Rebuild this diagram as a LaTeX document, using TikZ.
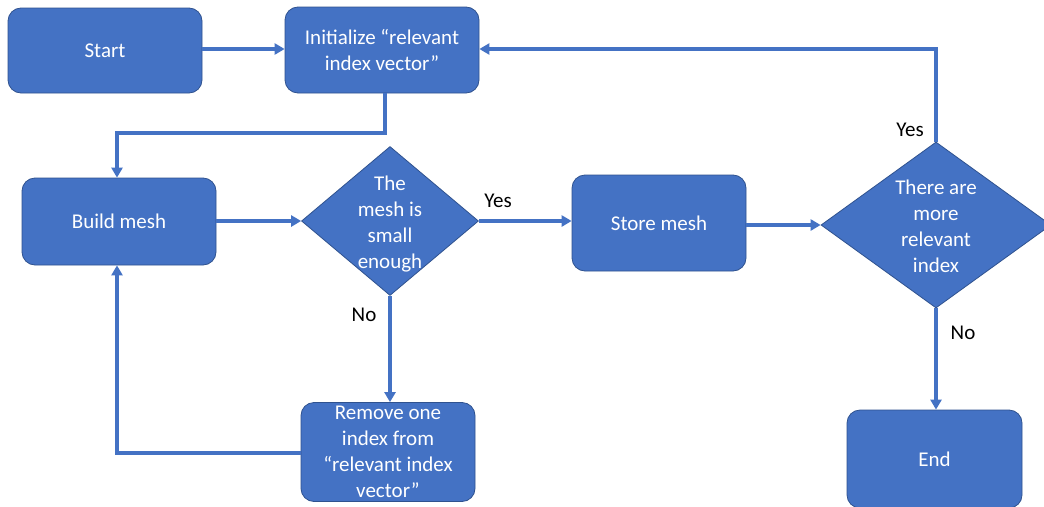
\documentclass[tikz,border=0pt]{standalone}
\usepackage{fontspec}
\setmainfont{Carlito}
\usetikzlibrary{shapes.geometric,arrows.meta}
\definecolor{fillblue}{HTML}{4472C4}
\definecolor{edgeblue}{HTML}{2F528F}
\definecolor{lineblue}{HTML}{4472C4}
\begin{document}
\begin{tikzpicture}[x=1pt,y=-1pt,
  txt/.style={text=white,align=center,font=\fontsize{21}{26}\selectfont},
  procbox/.style={draw=edgeblue,line width=0.8pt,fill=fillblue,rounded corners=13pt,
    inner sep=0pt,txt},
  decision/.style={diamond,draw=edgeblue,line width=0.8pt,fill=fillblue,inner sep=0pt,
    minimum width=177pt,minimum height=149pt},
  flow/.style={draw=lineblue,line width=3.4pt,
    -{Triangle[length=10pt,width=11pt]}},
  lab/.style={text=black,font=\fontsize{21}{26}\selectfont}]
  \useasboundingbox (0,0) rectangle (1044,506);
  \fill[white] (0,0) rectangle (1044,506);

  % process boxes
  \node[procbox,minimum width=194pt,minimum height=85pt] (start) at (105,50.5) {Start};
  \node[procbox,minimum width=194pt,minimum height=86pt] (init) at (382,50)
    {Initialize “relevant\\index vector”};
  \node[procbox,minimum width=194pt,minimum height=87pt] (build) at (119,221.5) {Build mesh};
  \node[procbox,minimum width=174pt,minimum height=96pt] (store) at (659,223) {Store mesh};
  \node[procbox,minimum width=174pt,minimum height=99pt] (remove) at (388,452)
    {Remove one\\index from\\“relevant index\\vector”};
  \node[procbox,minimum width=175pt,minimum height=98pt] (end) at (934.5,459) {End};

  % decisions
  \node[decision,label={[txt,yshift=-3pt]center:The\\mesh is\\small\\enough}] (small) at (390,221) {};
  \node[decision,minimum width=230pt,minimum height=166pt,
    label={[txt,yshift=-1pt]center:There are\\more\\relevant\\index}] (more) at (936,225) {};

  % connectors
  \coordinate (c1) at (385,133);
  \coordinate (c2) at (117,133);
  \coordinate (c3) at (117,453);
  \coordinate (c4) at (936,49);
  \draw[flow] (start.east |- 0,49) -- (init.west |- 0,49);
  \draw[flow] (init.south -| c1) -- (c1) -- (c2) -- (build.north -| c2);
  \draw[flow] (build.east |- 0,221) -- (small.west);
  \draw[flow] (small.east) -- (store.west |- small.east);
  \draw[flow] (small.south) -- (remove.north -| small.south);
  \draw[flow] (remove.west |- c3) -- (c3) -- (build.south -| c3);
  \draw[flow] (store.east |- more.west) -- (more.west);
  \draw[flow] (more.north) -- (c4) -- (init.east |- c4);
  \draw[flow] (more.south) -- (end.north -| more.south);

  % branch labels
  \node[lab] (ylo) at (498,201) {Yes};
  \node[lab] (nlo) at (364,315) {No};
  \node[lab] (yhi) at (910,130) {Yes};
  \node[lab] (nhi) at (963,333) {No};
\end{tikzpicture}
\end{document}
